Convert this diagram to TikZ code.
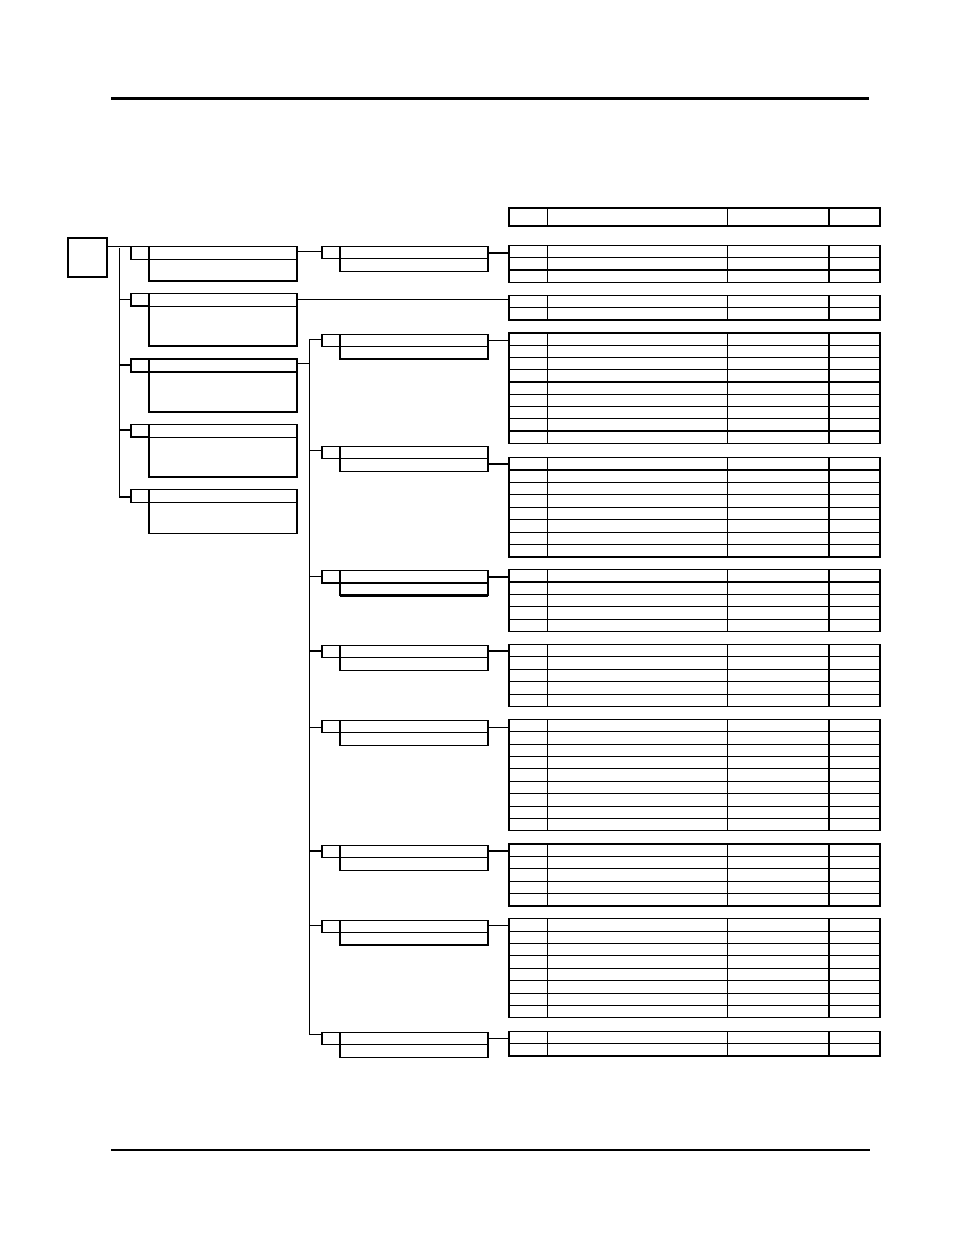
\documentclass[tikz,border=0pt]{standalone}
\usetikzlibrary{calc}
\tikzset{
  ln/.style={line width=1.1pt},
  thk/.style={line width=2.2pt},
  bx/.style={draw, line width=1.1pt, rectangle, inner sep=0pt, outer sep=0pt, anchor=north west},
}
% level-1 box: name, top, bottom
\newcommand\lonebox[3]{%
  \node[bx, minimum width=18pt, minimum height=13pt] (#1s) at (131,#2) {};
  \node[bx, minimum width=148pt, minimum height=13pt] (#1h) at (149,#2) {};
  \node[bx, minimum width=148pt, minimum height={#3-#2-13}] (#1b) at (#1h.south west) {};
}
% table: name, top, rows, row height
\newcommand\mktable[4]{%
  \node[bx, minimum width=371pt, minimum height={#3*#4}] (#1) at (509,#2) {};
  \draw[ln] (547.7,#2) -- (547.7,{#2+#3*#4});
  \draw[ln] (727.7,#2) -- (727.7,{#2+#3*#4});
  \draw[thk] (829,#2) -- (829,{#2+#3*#4});
  \ifnum#3>1
    \foreach \r in {2,...,#3}{\draw[ln] (509,{#2+(\r-1)*#4}) -- (880,{#2+(\r-1)*#4});}
  \fi
}
% level-2 box: name, top, left connector y, right connector y, table name, x of left feed
\newcommand\ltwobox[6]{%
  \node[bx, minimum width=18pt, minimum height=12.5pt] (#1s) at (322,#2) {};
  \node[bx, minimum width=148pt, minimum height=12.5pt] (#1h) at (340,#2) {};
  \node[bx, minimum width=148pt, minimum height=12.5pt] (#1b) at (#1h.south west) {};
  \draw[thk] (#1h.north east) -- (#1b.south east);
  \coordinate (#1L) at (#6,#3);
  \draw[ln] (#1L) -- (#1L -| #1s.west);
  \coordinate (#1R) at (#1h.east |- 0,#4);
  \draw[ln] (#1R) -- (#1R -| #5.west);
}
\begin{document}
\begin{tikzpicture}[x=1pt,y=-1pt]
\useasboundingbox (0,0) rectangle (954,1235);
% page rules
\coordinate (ruleTa) at (111,98); \coordinate (ruleTb) at (869,98);
\draw[line width=3pt] (ruleTa) -- (ruleTb);
\coordinate (ruleBa) at (111,1150); \coordinate (ruleBb) at (870,1150);
\draw[ln] (ruleBa) -- (ruleBb);

% header table
\mktable{hdr}{207.7}{1}{18.3}
\draw[thk] (hdr.north west) -- (hdr.north east);

% tables
\mktable{ta}{245.3}{3}{12.33}
\mktable{tb}{295.7}{2}{12.15}
\mktable{tc}{333}{9}{12.25}
\mktable{td}{457.5}{8}{12.45}
\draw[thk] (td.south west) -- (td.south east);
\mktable{te}{569.5}{5}{12.45}
\mktable{tf}{644.5}{5}{12.4}
\mktable{tg}{719.3}{9}{12.4}
\mktable{th}{844}{5}{12.4}
\draw[thk] (th.north west) -- (th.north east);
\mktable{ti}{918.7}{8}{12.4}
\mktable{tj}{1031.7}{2}{12.2}
\draw[thk] (tj.south west) -- (tj.south east);

% root
\node[bx, minimum width=39pt, minimum height=39pt] (root) at (68,238) {};

% level-1 boxes
\lonebox{la}{246.3}{281}
\lonebox{lb}{293.3}{346}
\lonebox{lc}{359}{412}
\lonebox{ld}{424.3}{477}
\lonebox{le}{489.3}{533.3}
\draw[thk] (lcs.north west) -- (lch.north east);
\draw[thk] (lbs.south west) -- (lbs.south east);
\draw[thk] (lds.south west) -- (lds.south east);

% trunk 1
\draw[ln] (root.north east |- las.north) -- (las.north west);
\coordinate (tr1a) at (119.3,248);
\coordinate (tr1b) at (119.3,497);
\draw[ln] (tr1a) -- (tr1b);
\coordinate (cb) at (119.3,299.3); \draw[ln] (cb) -- (cb -| lbs.west);
\coordinate (cc) at (119.3,365);   \draw[ln] (cc) -- (cc -| lcs.west);
\coordinate (cd) at (119.3,430);   \draw[ln] (cd) -- (cd -| lds.west);
\draw[ln] (tr1b) -- (tr1b -| les.west);

% level-1 box 2 direct to table b
\coordinate (lbR) at (lbh.east |- 0,299.7);
\draw[ln] (lbR) -- (lbR -| tb.west);

% level-2 box under level-1 box a
\ltwobox{ma}{246.3}{251.3}{253}{ta}{297}

% trunk 2
\coordinate (lcR) at (lch.east |- 0,363.3);
\coordinate (tr2a) at (309.3,339.3);
\coordinate (tr2b) at (309.3,1034.3);
\draw[ln] (lcR) -- (lcR -| tr2a);
\draw[ln] (tr2a) -- (tr2b);

\ltwobox{na}{334.3}{339.3}{340.3}{tc}{309.3}
\ltwobox{nb}{446.3}{450.3}{464}{td}{309.3}
\ltwobox{nc}{570.5}{576.7}{577}{te}{309.3}
\ltwobox{nd}{645.3}{651}{651}{tf}{309.3}
\ltwobox{ne}{720.3}{727.3}{727.3}{tg}{309.3}
\ltwobox{nf}{845.3}{851}{851}{th}{309.3}
\ltwobox{ng}{920.3}{925.3}{925.3}{ti}{309.3}
\ltwobox{nh}{1032.3}{1034.3}{1038.3}{tj}{309.3}
\draw[thk] (nab.south west) -- (nab.south east);
\draw[thk] (ncb.south west) -- (ncb.south east);
\draw[thk] (ngb.south west) -- (ngb.south east);
\end{tikzpicture}
\end{document}
